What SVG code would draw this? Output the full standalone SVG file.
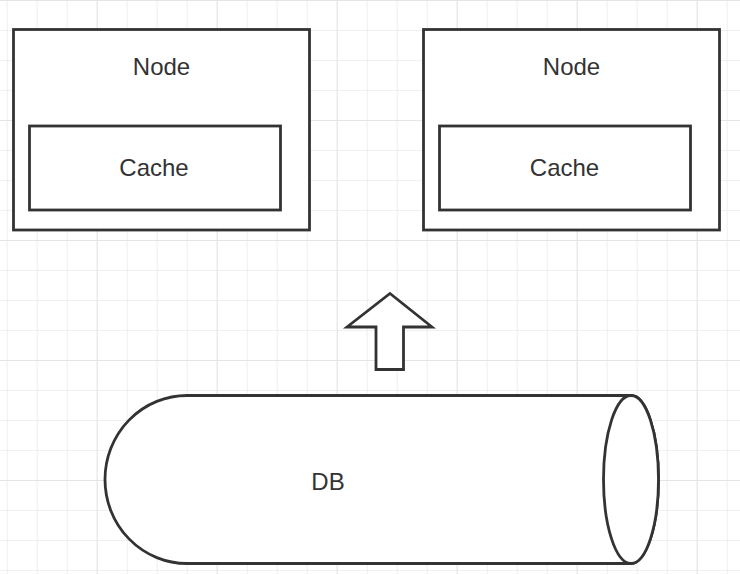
<svg xmlns="http://www.w3.org/2000/svg" width="740" height="574" viewBox="0 0 740 574">
  <defs>
    <pattern id="minor" patternUnits="userSpaceOnUse" x="6.7" y="0" width="30" height="30">
      <path d="M0,0 V30 M0,0 H30" fill="none" stroke="#ebebeb" stroke-width="1.6"/>
    </pattern>
    <pattern id="major" patternUnits="userSpaceOnUse" x="96.7" y="0" width="120" height="120">
      <path d="M0,0 V120 M0,0 H120" fill="none" stroke="#e2e2e2" stroke-width="1.6"/>
    </pattern>
  </defs>
  <style>
    .shape { fill: #ffffff; stroke: #333333; stroke-width: 2.8; }
    .lbl { font-family: "Liberation Sans", Arial, sans-serif; font-size: 24px; fill: #333333; text-anchor: middle; }
  </style>
  <rect width="740" height="574" fill="#ffffff"/>
  <rect width="740" height="574" fill="url(#minor)"/>
  <rect width="740" height="574" fill="url(#major)"/>

  <g id="node1">
    <rect class="shape" x="13.5" y="29.5" width="296" height="200.5"/>
    <text class="lbl" x="161.5" y="75">Node</text>
  </g>
  <g id="cache1">
    <rect class="shape" x="29.5" y="126" width="251" height="84"/>
    <text class="lbl" x="154" y="176">Cache</text>
  </g>
  <g id="node2">
    <rect class="shape" x="423.5" y="29.5" width="296" height="200.5"/>
    <text class="lbl" x="571.5" y="75">Node</text>
  </g>
  <g id="cache2">
    <rect class="shape" x="439.5" y="126" width="251" height="84"/>
    <text class="lbl" x="564.5" y="176">Cache</text>
  </g>

  <g id="connectors">
    <polygon class="shape" points="390,293.5 432,327 403.5,327 403.5,369.5 376,369.5 376,327 347,327"/>
  </g>

  <g id="db">
    <path class="shape" d="M187,395.5 L631,395.5 A27.5,84 0 0 1 631,563.5 L187,563.5 A82,84 0 0 1 187,395.5 Z"/>
    <ellipse class="shape" cx="631" cy="479.5" rx="27.5" ry="84"/>
    <text class="lbl" x="328" y="490">DB</text>
  </g>
</svg>
